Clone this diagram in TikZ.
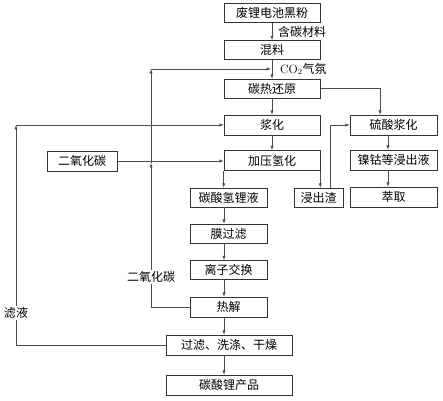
\documentclass[tikz,border=0pt]{standalone}
\usepackage{fontspec}
\newfontfamily\cjk{Noto Sans CJK SC}
\usetikzlibrary{arrows}

\tikzset{
  box/.style={draw=black!80, line width=0.6pt, inner sep=0pt, minimum height=19pt, font=\fontsize{12}{14}\selectfont\cjk},
  flow/.style={-latex, draw=black!70, line width=0.5pt},
  lbl/.style={inner sep=1pt, font=\fontsize{12}{14}\selectfont\cjk},
}

\begin{document}
\begin{tikzpicture}[x=1pt,y=-1pt]
  \useasboundingbox (0,0) rectangle (443,400);
  % main column
  \node [box, minimum width=96pt] (feed) at (272,13) {废锂电池黑粉};
  \node [box, minimum width=96pt] (mix) at (272,50) {混料};
  \node [box, minimum width=96pt] (redu) at (272,88.5) {碳热还原};
  \node [box, minimum width=96pt, minimum height=20pt] (slurry) at (272,125) {浆化};
  \node [box, minimum width=96pt, minimum height=20pt] (hydro) at (272,160.5) {加压氢化};
  \node [box, minimum width=70pt, minimum height=20pt] (co2) at (82,161) {二氧化碳};
  % lithium line
  \node [box, minimum width=77pt] (bicarb) at (228.5,197.5) {碳酸氢锂液};
  \node [box, minimum width=77pt] (membr) at (228.5,233.5) {膜过滤};
  \node [box, minimum width=77pt] (ionex) at (228.5,270) {离子交换};
  \node [box, minimum width=77pt, minimum height=20pt] (pyro) at (228.5,307) {热解};
  \node [box, minimum width=126pt, minimum height=20pt] (wash) at (229,345) {过滤、洗涤、干燥};
  \node [box, minimum width=126pt, minimum height=20pt] (prod) at (229,385) {碳酸锂产品};
  % residue line
  \node [box, minimum width=49pt] (resid) at (318.5,197.5) {浸出渣};
  \node [box, minimum width=87pt, minimum height=20pt] (acid) at (393.5,125) {硫酸浆化};
  \node [box, minimum width=87pt, minimum height=20pt] (leach) at (393.5,160) {镍钴等浸出液};
  \node [box, minimum width=87pt, minimum height=20pt] (extr) at (393.5,197) {萃取};

  \coordinate (sp) at (224,0);
  \coordinate (acidin) at (380,0);
  \coordinate (nix) at (388,0);
  \coordinate (rx) at (330,0);
  \coordinate (gasin) at (271,69);
  \coordinate (co2up) at (151,163);
  \coordinate (co2top) at (151,69);
  \coordinate (filtup) at (16,125);

  \draw [flow] (feed) -- (mix);
  \draw [flow] (mix) -- (redu);
  \draw [flow] (redu) -- (slurry);
  \draw [flow] (slurry) -- (hydro);
  \draw [flow] (redu.east) -| (acidin |- acid.north);
  \draw [flow] (co2.east) -- (co2.east -| hydro.west);
  \draw [flow] (hydro.south west) -- (hydro.south west |- bicarb.north);
  \draw [flow] (hydro.south east) -- (hydro.south east |- resid.north);
  \draw [flow] (resid.north -| rx) |- (acid.west);
  \draw [flow] (acid.south -| nix) -- (leach.north -| nix);
  \draw [flow] (leach.south -| nix) -- (extr.north -| nix);
  \draw [flow] (bicarb.south -| sp) -- (membr.north -| sp);
  \draw [flow] (membr.south -| sp) -- (ionex.north -| sp);
  \draw [flow] (ionex.south -| sp) -- (pyro.north -| sp);
  \draw [flow] (pyro.south -| sp) -- (wash.north -| sp);
  \draw [flow] (wash.south -| sp) -- (prod.north -| sp);
  % recycle loops
  \draw [flow] (pyro.west) -| (co2up);
  \draw [flow] (co2up) -- (co2top);
  \draw [flow] (co2top) -- (gasin);
  \draw [flow] (wash.west) -| (filtup);
  \draw [flow] (filtup) -- (slurry.west);

  \node [lbl, anchor=west] (carbon) at (277,32) {含碳材料};
  \node [lbl, anchor=west] (atmos) at (279,69) {{\rmfamily CO$_2$}气氛};
  \node [lbl, fill=white] (co2lbl) at (151,277) {二氧化碳};
  \node [lbl, fill=white] (filtr) at (16,313) {滤液};
\end{tikzpicture}
\end{document}
